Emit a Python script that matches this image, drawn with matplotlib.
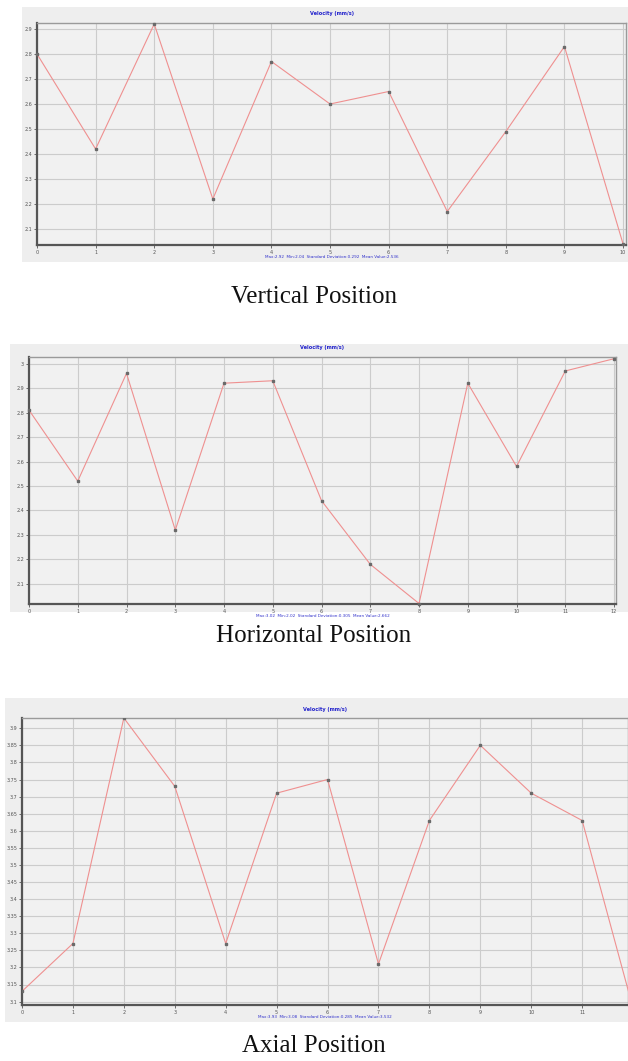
import matplotlib.pyplot as plt
import numpy as np
from matplotlib.patches import Rectangle

W, H = 628, 1061

# values (mm/s)
vert_x = np.arange(11)
vert_v = [2.80, 2.42, 2.92, 2.22, 2.77, 2.60, 2.65, 2.17, 2.49, 2.83, 2.04]
vert_ticks = [2.1, 2.2, 2.3, 2.4, 2.5, 2.6, 2.7, 2.8, 2.9]

horz_x = np.arange(13)
horz_v = [2.81, 2.52, 2.96, 2.32, 2.92, 2.93, 2.44, 2.18, 2.02, 2.92, 2.58, 2.97, 3.02]
horz_ticks = [2.1, 2.2, 2.3, 2.4, 2.5, 2.6, 2.7, 2.8, 2.9, 3.0]

axial_x = np.arange(13)
axial_v = [3.13, 3.27, 3.93, 3.73, 3.27, 3.71, 3.75, 3.21, 3.63, 3.85, 3.71, 3.63, 3.08]
axial_ticks = [3.1, 3.15, 3.2, 3.25, 3.3, 3.35, 3.4, 3.45, 3.5, 3.55,
               3.6, 3.65, 3.7, 3.75, 3.8, 3.85, 3.9]

stats = [
    "Max:2.92  Min:2.04  Standard Deviation:0.292  Mean Value:2.536",
    "Max:3.02  Min:2.02  Standard Deviation:0.305  Mean Value:2.662",
    "Max:3.93  Min:3.08  Standard Deviation:0.285  Mean Value:3.532",
]
captions = ["Vertical Position", "Horizontal Position", "Axial Position"]

# layout in pixels: (panel box), (axes box), xlim, ylim, caption y
panels = [
    dict(x=vert_x, v=vert_v, ticks=vert_ticks, xt=range(11), box=(22, 7, 628, 262),
         ax=(37, 23, 626, 245), xlim=(0, 10.05), ylim=(2.036, 2.924), cap=297),
    dict(x=horz_x, v=horz_v, ticks=horz_ticks, xt=range(13), box=(10, 344, 628, 612),
         ax=(29, 357, 616, 604), xlim=(0, 12.04), ylim=(2.018, 3.027), cap=636),
    dict(x=axial_x, v=axial_v, ticks=axial_ticks, xt=range(12), box=(5, 698, 628, 1022),
         ax=(22, 718, 628, 1005), xlim=(0, 11.9), ylim=(3.09, 3.93), cap=1046),
]

fig = plt.figure(figsize=(W / 100, H / 100), dpi=100)
fig.patch.set_facecolor("white")

for i, p in enumerate(panels):
    x0, y0, x1, y1 = p["box"]
    fig.patches.append(Rectangle((x0 / W, 1 - y1 / H), (x1 - x0) / W, (y1 - y0) / H,
                                 transform=fig.transFigure, facecolor="#eeeeee",
                                 edgecolor="none", zorder=-5))
    a0, b0, a1, b1 = p["ax"]
    ax = fig.add_axes([a0 / W, 1 - b1 / H, (a1 - a0) / W, (b1 - b0) / H], zorder=2)
    ax.set_facecolor("#f1f1f1")
    ax.plot(p["x"], p["v"], color="#ef9090", lw=0.8, marker="s", ms=1.6,
            mfc="#6a6a6a", mec="#6a6a6a", clip_on=(i == 2), zorder=3)
    ax.set_xlim(*p["xlim"])
    ax.set_ylim(*p["ylim"])
    ax.set_xticks(list(p["xt"]))
    ax.set_yticks(p["ticks"])
    ax.set_yticklabels([f"{t:g}" for t in p["ticks"]])
    ax.grid(True, color="#cccccc", lw=0.8)
    ax.set_axisbelow(True)
    ax.tick_params(labelsize=3.5, colors="#555555", length=2, width=0.6, pad=1.5)
    for s in ("left", "bottom"):
        ax.spines[s].set_color("#555555")
        ax.spines[s].set_linewidth(1.6)
    for s in ("top", "right"):
        ax.spines[s].set_color("#9a9a9a")
        ax.spines[s].set_linewidth(1.0)
    cx = (a0 + a1) / 2 / W
    fig.text(cx, 1 - (b0 - 9) / H, "Velocity (mm/s)", color="#2222cc",
             fontsize=3.6, fontweight="bold", ha="center", va="center")
    fig.text(cx, 1 - (b1 + 12) / H, stats[i], color="#3333cc",
             fontsize=3.0, ha="center", va="center")
    fig.text(0.5, 1 - p["cap"] / H, captions[i], family="Liberation Serif",
             fontsize=18, ha="center", va="center", color="#111111")

fig.savefig("out.png", dpi=100)
